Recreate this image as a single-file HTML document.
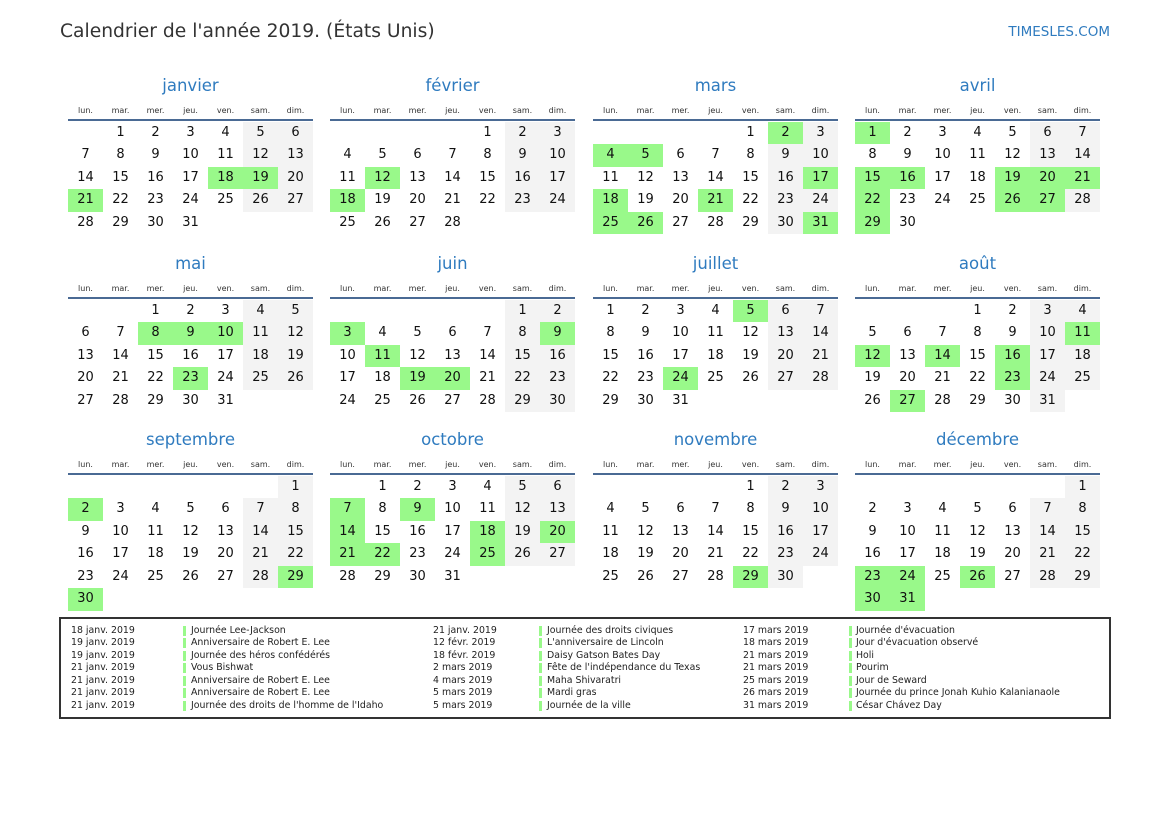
<!DOCTYPE html>
<html><head><meta charset="utf-8">
<style>
body{margin:0;width:1169px;height:827px;background:#fff;font-family:"DejaVu Sans","Liberation Sans",sans-serif;position:relative;overflow:hidden}
.a{position:absolute}
.t{left:60px;top:21px;font-size:18.7px;color:#333}
.site{right:59px;top:24px;font-size:13.5px;color:#2f7bbf}
.mt{width:245px;text-align:center;font-size:16.5px;color:#2f7bbf}
.wd{width:35px;text-align:center;font-size:8px;color:#333}
.ln{width:245px;height:2px;background:#4a6a94}
.c{width:35px;height:22.5px;line-height:22.5px;text-align:center;font-size:13px;color:#111}
.g{background:#f3f3f3}
.h{background:#99f98a}
.box{left:59px;top:617px;width:1048px;height:98px;border:2px solid #333}
.lg{font-size:9.4px;color:#222;white-space:nowrap}
.bar{width:3px;height:10px;background:#99f98a}
</style></head><body>
<div class="a t">Calendrier de l'année 2019. (États Unis)</div>
<div class="a site">TIMESLES.COM</div>
<div class="a box"></div>
<div id="root"></div>
<script>
var names=["janvier","février","mars","avril","mai","juin","juillet","août","septembre","octobre","novembre","décembre"];
var wds=["lun.","mar.","mer.","jeu.","ven.","sam.","dim."];
var hol=[[18,19,21],[12,18],[2,4,5,17,18,21,25,26,31],[1,15,16,19,20,21,22,26,27,29],[8,9,10,23],[3,9,11,19,20],[5,24],[11,12,14,16,23,27],[2,29,30],[7,9,14,18,20,21,22,25],[29],[23,24,26,30,31]];
var xs=[68,330,593,855],ys=[0,178,354];
var h="";
for(var m=0;m<12;m++){
 var x0=xs[m%4],oy=ys[Math.floor(m/4)];
 h+='<div class="a mt" style="left:'+x0+'px;top:'+(76+oy)+'px">'+names[m]+'</div>';
 for(var i=0;i<7;i++)h+='<div class="a wd" style="left:'+(x0+35*i)+'px;top:'+(106+oy)+'px">'+wds[i]+'</div>';
 h+='<div class="a ln" style="left:'+x0+'px;top:'+(119+oy)+'px"></div>';
 var first=(new Date(2019,m,1).getDay()+6)%7,n=new Date(2019,m+1,0).getDate();
 for(var d=1;d<=n;d++){
  var p=first+d-1,col=p%7,row=Math.floor(p/7);
  var cls="c";
  if(hol[m].indexOf(d)>=0)cls+=" h";else if(col>=5)cls+=" g";
  h+='<div class="a '+cls+'" style="left:'+(x0+35*col)+'px;top:'+(121.5+oy+22.5*row)+'px">'+d+'</div>';
 }
}
var L=[
[["18 janv. 2019","Journée Lee-Jackson"],["19 janv. 2019","Anniversaire de Robert E. Lee"],["19 janv. 2019","Journée des héros confédérés"],["21 janv. 2019","Vous Bishwat"],["21 janv. 2019","Anniversaire de Robert E. Lee"],["21 janv. 2019","Anniversaire de Robert E. Lee"],["21 janv. 2019","Journée des droits de l'homme de l'Idaho"]],
[["21 janv. 2019","Journée des droits civiques"],["12 févr. 2019","L'anniversaire de Lincoln"],["18 févr. 2019","Daisy Gatson Bates Day"],["2 mars 2019","Fête de l'indépendance du Texas"],["4 mars 2019","Maha Shivaratri"],["5 mars 2019","Mardi gras"],["5 mars 2019","Journée de la ville"]],
[["17 mars 2019","Journée d'évacuation"],["18 mars 2019","Jour d'évacuation observé"],["21 mars 2019","Holi"],["21 mars 2019","Pourim"],["25 mars 2019","Jour de Seward"],["26 mars 2019","Journée du prince Jonah Kuhio Kalanianaole"],["31 mars 2019","César Chávez Day"]]];
var gx=[[71,183,191],[433,539,547],[743,849,856]];
for(var g=0;g<3;g++)for(var r=0;r<7;r++){
 var y=624.5+12.5*r;
 h+='<div class="a lg" style="left:'+gx[g][0]+'px;top:'+y+'px">'+L[g][r][0]+'</div>';
 h+='<div class="a bar" style="left:'+gx[g][1]+'px;top:'+(y+1)+'px"></div>';
 h+='<div class="a lg" style="left:'+gx[g][2]+'px;top:'+y+'px">'+L[g][r][1]+'</div>';
}
document.getElementById("root").innerHTML=h;
</script>
</body></html>
